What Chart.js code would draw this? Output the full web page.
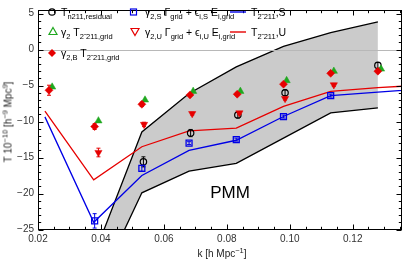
<!DOCTYPE html>
<html><head><meta charset="utf-8">
<script src="https://cdn.jsdelivr.net/npm/chart.js@4/dist/chart.umd.min.js"></script>
<style>
body{margin:0;background:#fff;}
#wrap{position:relative;width:407px;height:262px;font-family:"Liberation Sans",Arial,sans-serif;color:#000;overflow:hidden;}
canvas{position:absolute;left:0;top:0;}
.t{position:absolute;white-space:nowrap;font-size:10.5px;line-height:10.5px;}
.t sub{font-size:7.5px;vertical-align:baseline;position:relative;top:3px;}
.t sup{font-size:7.5px;vertical-align:baseline;position:relative;top:-4px;}
</style></head>
<body><div id="wrap"><canvas id="c" width="407" height="262"></canvas>
<div class="t" style="left:61px;top:7px">T<sub>n211,residual</sub></div>
<div class="t" style="left:145px;top:7px">γ<sub>2,S</sub> Γ<sub>grid</sub> + ϵ<sub>i,S</sub> E<sub>i,grid</sub></div>
<div class="t" style="left:251px;top:7px">T<sub>2&#x303; 211</sub>,S</div>
<div class="t" style="left:61px;top:27px">γ<sub>2</sub> T<sub>2&#x303; 211,grid</sub></div>
<div class="t" style="left:145px;top:27px">γ<sub>2,U</sub> Γ<sub>grid</sub> + ϵ<sub>i,U</sub> E<sub>i,grid</sub></div>
<div class="t" style="left:251px;top:27px">T<sub>2&#x303; 211</sub>,U</div>
<div class="t" style="left:61px;top:48px">γ<sub>2,B</sub> T<sub>2&#x303; 211,grid</sub></div>
<div class="t" style="left:230px;top:192px;font-size:17px;line-height:17px;transform:translate(-50%,-50%)">PMM</div>
<div class="t" style="left:222px;top:254px;font-size:10px;line-height:10px;transform:translate(-50%,-50%);color:#222">k [h Mpc<sup>−1</sup>]</div>
<div class="t" style="left:9px;top:122px;font-size:10px;line-height:10px;transform:translate(-50%,-50%) rotate(-90deg);color:#222">T 10<sup>−10</sup> [h<sup>−9</sup> Mpc<sup>9</sup>]</div>
</div>
<script>
// ---- data ----
const kBand = [0.0378, 0.053, 0.068, 0.083, 0.098, 0.113, 0.128];
const pmmUpper = [-28.6, -11.45, -6.1, -2.4, 0.45, 2.37, 3.84];
const pmmLower = [-34.0, -19.9, -16.9, -15.8, -12.3, -8.8, -8.1];

const kLine = [0.0222, 0.0377, 0.053, 0.068, 0.083, 0.098, 0.113, 0.128, 0.143];
const tLineS = [-9.35, -24.0, -17.5, -14.0, -12.6, -9.3, -6.4, -5.9, -5.45];
const tLineU = [-8.55, -18.1, -13.5, -11.3, -10.9, -7.9, -5.8, -5.3, -4.9];

const kCircle = [0.0535, 0.0685, 0.0835, 0.0985, 0.128];
const tResidual = [-15.6, -11.6, -9.1, -6.0, -2.2];
const errResidual = [0.7, 0.5, 0.4, 0.4, 0.4];

const kSquare = [0.038, 0.053, 0.068, 0.083, 0.098, 0.113];
const tGammaS = [-23.8, -16.5, -13.0, -12.5, -9.3, -6.4];
const errGammaS = [1.0, 0.4, 0.2, 0.2, 0.2, 0.2];

const kDown = [0.0392, 0.0537, 0.069, 0.084, 0.0985, 0.114];
const tGammaU = [-14.3, -10.4, -8.9, -8.8, -6.8, -4.9];
const errGammaU = [0.6, 0.3, 0.2, 0.2, 0.2, 0.2];

const kTri = [0.0245, 0.0392, 0.054, 0.0693, 0.0843, 0.099, 0.114, 0.129];
const tGamma2 = [-5.2, -9.9, -7.0, -5.8, -5.8, -4.3, -3.0, -2.7];

const kDiamond = [0.0235, 0.038, 0.053, 0.0683, 0.0833, 0.098, 0.113, 0.128];
const tGamma2B = [-5.65, -10.7, -7.6, -6.3, -6.2, -4.8, -3.3, -3.0];
const errGamma2B = [0.7, 0.4, 0.3, 0.2, 0.2, 0.2, 0.2, 0.2];

const xTicks = [0.02, 0.04, 0.06, 0.08, 0.10, 0.12];
const yTicks = [-25, -20, -15, -10, -5, 0, 5];

const pts = (xs, ys) => xs.map((x, i) => ({x: x, y: ys[i]}));

const RED = '#e60000', BLUE = '#0000e6', GREEN = '#1fa81f';

const decor = {
  id: 'decor',
  beforeDatasetDraw(chart, args) {
    const ds = chart.data.datasets[args.index];
    if (!ds.errors) return;
    const ctx = chart.ctx, xs = chart.scales.x, ys = chart.scales.y;
    ctx.save();
    ctx.strokeStyle = ds.errColor; ctx.lineWidth = 1;
    ds.data.forEach((p, i) => {
      const e = ds.errors[i]; if (!e) return;
      const x = xs.getPixelForValue(p.x);
      const y1 = ys.getPixelForValue(p.y + e), y2 = ys.getPixelForValue(p.y - e);
      ctx.beginPath();
      ctx.moveTo(x, y1); ctx.lineTo(x, y2);
      ctx.moveTo(x - 2, y1); ctx.lineTo(x + 2, y1);
      ctx.moveTo(x - 2, y2); ctx.lineTo(x + 2, y2);
      ctx.stroke();
    });
    ctx.restore();
  },
  afterDatasetsDraw(chart) {
    const ctx = chart.ctx, a = chart.chartArea, ys = chart.scales.y;
    const y0 = Math.round(ys.getPixelForValue(0)) + 0.5;
    ctx.save(); ctx.strokeStyle = '#b8b8b8'; ctx.lineWidth = 1;
    ctx.beginPath(); ctx.moveTo(a.left, y0); ctx.lineTo(a.right, y0); ctx.stroke();
    ctx.restore();
  },
  afterDraw(chart) {
    const ctx = chart.ctx, a = chart.chartArea, xs = chart.scales.x, ys = chart.scales.y;
    ctx.save();
    ctx.strokeStyle = '#000'; ctx.lineWidth = 1;
    const L = Math.round(a.left) + 0.5, R = Math.round(a.right) - 0.5, T = Math.round(a.top) + 0.5, B = Math.round(a.bottom) - 0.5;
    ctx.strokeRect(L, T, R - L, B - T);
    ctx.beginPath();
    for (let v = 0.02; v <= 0.1356; v += 0.005) {
      const x = Math.round(xs.getPixelForValue(v)) + 0.5;
      const major = Math.abs(v / 0.02 - Math.round(v / 0.02)) < 1e-6;
      const len = major ? 5 : 2.7;
      ctx.moveTo(x, B); ctx.lineTo(x, B - len);
      ctx.moveTo(x, T); ctx.lineTo(x, T + len);
    }
    for (let v = -25; v <= 5.5; v += 1) {
      const y = Math.round(ys.getPixelForValue(v)) + 0.5;
      const major = v % 5 === 0;
      const len = major ? 5 : 2.7;
      ctx.moveTo(L, y); ctx.lineTo(L + len, y);
      ctx.moveTo(R, y); ctx.lineTo(R - len, y);
    }
    ctx.stroke();
    // legend symbols
    ctx.lineWidth = 1.2;
    ctx.strokeStyle = '#000';
    ctx.beginPath(); ctx.arc(52, 12, 3.2, 0, Math.PI * 2); ctx.stroke();
    ctx.strokeStyle = BLUE;
    ctx.strokeRect(130.5, 9, 6, 6);
    ctx.strokeStyle = GREEN;
    ctx.beginPath(); ctx.moveTo(53, 27.5); ctx.lineTo(57, 34.5); ctx.lineTo(49, 34.5); ctx.closePath(); ctx.stroke();
    ctx.strokeStyle = RED;
    ctx.beginPath(); ctx.moveTo(135, 35.5); ctx.lineTo(139, 28.5); ctx.lineTo(131, 28.5); ctx.closePath(); ctx.stroke();
    ctx.fillStyle = RED;
    ctx.beginPath(); ctx.moveTo(52, 49); ctx.lineTo(56, 53); ctx.lineTo(52, 57); ctx.lineTo(48, 53); ctx.closePath(); ctx.fill();
    ctx.lineWidth = 1.4;
    ctx.strokeStyle = BLUE; ctx.beginPath(); ctx.moveTo(230, 12); ctx.lineTo(246, 12); ctx.stroke();
    ctx.strokeStyle = RED; ctx.beginPath(); ctx.moveTo(230, 32); ctx.lineTo(246, 32); ctx.stroke();
    ctx.restore();
  }
};

new Chart(document.getElementById('c'), {
  type: 'scatter',
  data: {
    datasets: [
      {data: pts(kBand, pmmUpper), showLine: true, borderColor: '#000', borderWidth: 1.3, pointRadius: 0, fill: '+1', backgroundColor: '#cbcbcb', order: 10, tension: 0},
      {data: pts(kBand, pmmLower), showLine: true, borderColor: '#000', borderWidth: 1.3, pointRadius: 0, fill: false, order: 9},
      {data: pts(kLine, tLineS), showLine: true, borderColor: BLUE, borderWidth: 1.3, pointRadius: 0, fill: false, order: 8},
      {data: pts(kLine, tLineU), showLine: true, borderColor: RED, borderWidth: 1.3, pointRadius: 0, fill: false, order: 7},
      {data: pts(kCircle, tResidual), errors: errResidual, errColor: '#000', pointStyle: 'circle', pointRadius: 3.2, borderColor: '#000', borderWidth: 1.2, backgroundColor: 'rgba(0,0,0,0)', order: 5},
      {data: pts(kSquare, tGammaS), errors: errGammaS, errColor: BLUE, pointStyle: 'rect', pointRadius: 4.2, borderColor: BLUE, borderWidth: 1.3, backgroundColor: 'rgba(0,0,0,0)', order: 4},
      {data: pts(kDown, tGammaU), errors: errGammaU, errColor: RED, pointStyle: 'triangle', rotation: 180, pointRadius: 4.2, borderColor: RED, borderWidth: 0.5, backgroundColor: RED, order: 3},
      {data: pts(kTri, tGamma2), pointStyle: 'triangle', pointRadius: 4.2, borderColor: GREEN, borderWidth: 0.5, backgroundColor: GREEN, order: 2},
      {data: pts(kDiamond, tGamma2B), errors: errGamma2B, errColor: RED, pointStyle: 'rectRot', pointRadius: 4, borderColor: RED, borderWidth: 0.5, backgroundColor: RED, order: 1}
    ]
  },
  options: {
    responsive: false, animation: false, devicePixelRatio: 1, events: [],
    layout: {padding: {left: 0, right: 1.5, top: 1.5, bottom: 0}},
    plugins: {legend: {display: false}, tooltip: {enabled: false}},
    scales: {
      x: {
        type: 'linear', min: 0.02, max: 0.1355,
        grid: {display: false, drawTicks: false}, border: {display: false},
        afterBuildTicks: s => { s.ticks = xTicks.map(v => ({value: v})); },
        afterFit: s => { s.height = 32.5; },
        ticks: {padding: 4, color: '#333', font: {family: 'Liberation Sans', size: 10}, maxRotation: 0, callback: v => v.toFixed(2)}
      },
      y: {
        min: -25, max: 5.5,
        grid: {display: false, drawTicks: false}, border: {display: false},
        afterBuildTicks: s => { s.ticks = yTicks.map(v => ({value: v})); },
        afterFit: s => { s.width = 38; },
        ticks: {padding: 4, color: '#333', font: {family: 'Liberation Sans', size: 10}, callback: v => v < 0 ? '\u2212' + Math.abs(v) : String(v)}
      }
    }
  },
  plugins: [decor]
});
</script>
</body></html>
